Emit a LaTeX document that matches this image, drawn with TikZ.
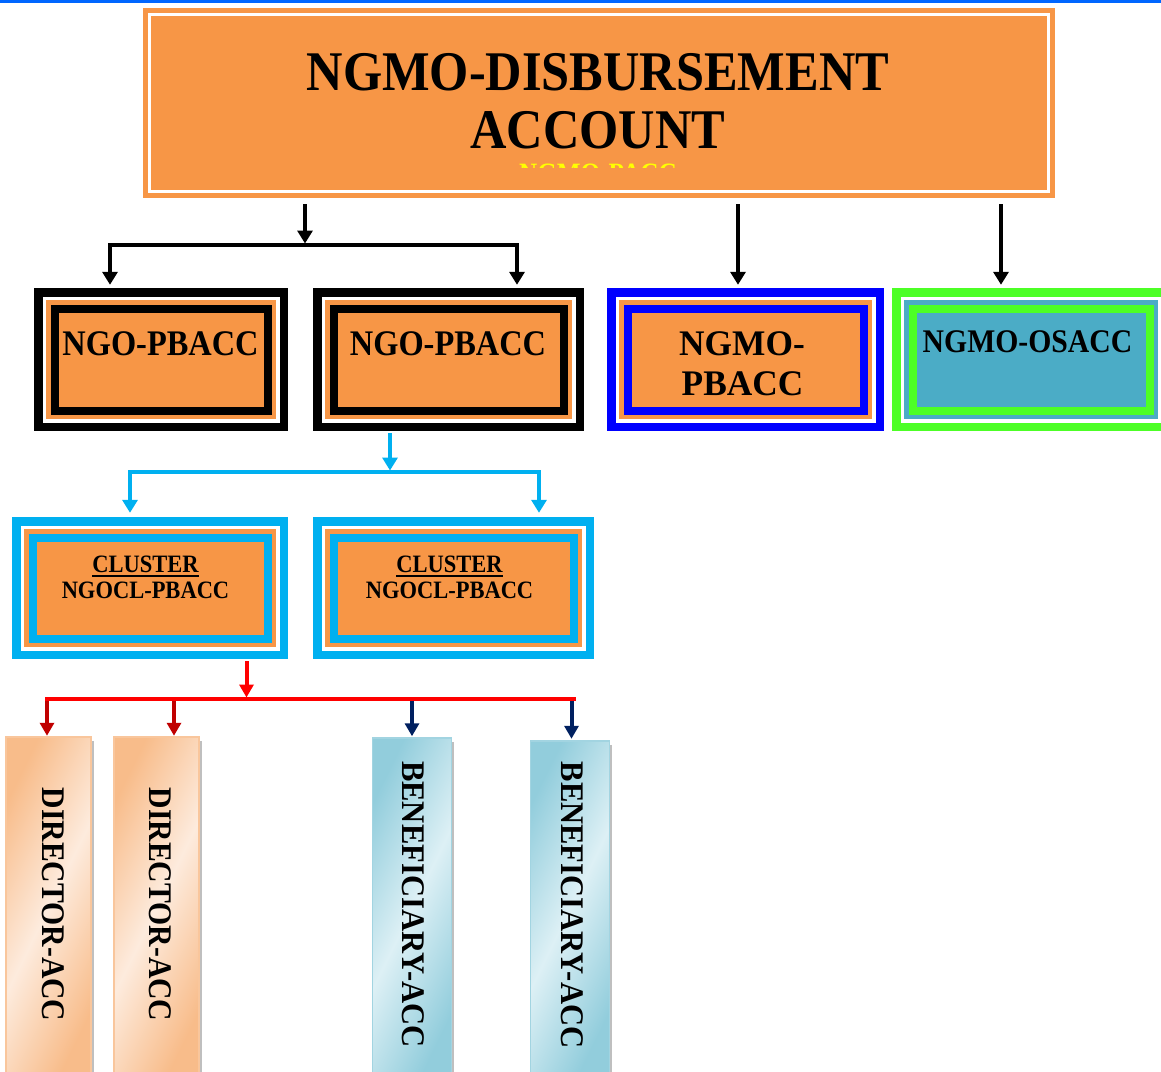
\documentclass[tikz,border=0pt]{standalone}
\usepackage{fontspec}
\usepackage{graphicx}
\setmainfont{Liberation Serif}[FakeStretch=0.9]
\usetikzlibrary{arrows.meta}

\definecolor{acc6}{RGB}{247,150,70}
\definecolor{acc5}{RGB}{75,172,198}
\definecolor{skyline}{RGB}{0,176,240}
\definecolor{limegreen}{RGB}{77,255,38}
\definecolor{pureblue}{RGB}{0,0,255}
\definecolor{deepred}{RGB}{192,0,0}
\definecolor{navyline}{RGB}{0,32,96}
\definecolor{topblue}{RGB}{0,102,255}
\definecolor{peach}{RGB}{248,188,138}
\definecolor{peachlight}{RGB}{253,235,221}
\definecolor{aqua}{RGB}{146,205,220}
\definecolor{aqualight}{RGB}{221,240,245}
\definecolor{ghostyellow}{RGB}{255,255,0}

\newcommand{\widen}[2]{\scalebox{#1}[1]{#2}}

\begin{document}
\begin{tikzpicture}[x=1pt,y=-1pt,
  lbl/.style={inner sep=0pt, font=\bfseries},
  layered/.style 2 args={rectangle, inner sep=0pt, path picture={
    \fill[#1] (path picture bounding box.south west) rectangle (path picture bounding box.north east);
    \fill[white] ([shift={(8.5pt,8.5pt)}]path picture bounding box.south west) rectangle ([shift={(-8.5pt,-8.5pt)}]path picture bounding box.north east);
    \fill[#2] ([shift={(12pt,12pt)}]path picture bounding box.south west) rectangle ([shift={(-12pt,-12pt)}]path picture bounding box.north east);
    \fill[#1] ([shift={(16.5pt,16.5pt)}]path picture bounding box.south west) rectangle ([shift={(-16.5pt,-16.5pt)}]path picture bounding box.north east);
    \fill[#2] ([shift={(24.5pt,24.5pt)}]path picture bounding box.south west) rectangle ([shift={(-24.5pt,-24.5pt)}]path picture bounding box.north east);
  }},
  bar/.style={rectangle, inner sep=0pt, minimum height=337pt, line width=1.5pt,
    preaction={fill=black!25, transform canvas={xshift=2.5pt,yshift=-4pt}}},
  peachbar/.style={bar, draw=peach!85!white, left color=peach, right color=peach,
    middle color=peachlight, shading angle=64},
  aquabar/.style={bar, draw=aqua!85!white, left color=aqua, right color=aqua,
    middle color=aqualight, shading angle=64},
  blackarrow/.style={line width=3.5pt, -{Triangle[length=13pt,width=15pt]}},
  skyarrow/.style={line width=4pt, skyline, -{Triangle[length=13pt,width=15pt]}},
  redarrow/.style={line width=4pt, red, -{Triangle[length=13pt,width=14pt]}},
  deeparrow/.style={line width=4pt, #1, -{Triangle[length=13pt,width=14pt]}},
]
\path[use as bounding box, clip] (0,0) rectangle (1161,1071);
\fill[white] (0,0) rectangle (1161,1071);
\fill[topblue] (0,0) rectangle (1161,2.5);

% top account
\node[rectangle, fill=acc6, minimum width=912pt, minimum height=190pt, inner sep=0pt] (acct) at (599,103) {};
\draw[white, line width=3pt] ([shift={(7pt,7pt)}]acct.south west) rectangle ([shift={(-7pt,-7pt)}]acct.north east);
\node[lbl, anchor=base, font=\bfseries\fontsize{56}{58}\selectfont] (acctA) at (598,90) {NGMO-DISBURSEMENT};
\node[lbl, anchor=base, font=\bfseries\fontsize{56}{58}\selectfont] (acctB) at (598,148) {ACCOUNT};
\begin{scope}
  \clip (150,150) rectangle (1047,167);
  \node[lbl, anchor=base, text=ghostyellow, font=\bfseries\fontsize{28}{30}\selectfont] (ghost) at (598,182) {NGMO-PACC};
\end{scope}

% second row
\node[layered={black}{acc6}, minimum width=254pt, minimum height=143pt] (ngoA) at (161,359.5) {};
\node[layered={black}{acc6}, minimum width=271pt, minimum height=143pt] (ngoB) at (448.5,359.5) {};
\node[layered={pureblue}{acc6}, minimum width=277pt, minimum height=143pt] (ngmo) at (745.5,359.5) {};
\node[layered={limegreen}{acc5}, minimum width=278pt, minimum height=143pt] (osacc) at (1031,359.5) {};

\node[lbl, anchor=base, font=\bfseries\fontsize{36}{40}\selectfont] (ngoAt) at (160.5,355) {NGO-PBACC};
\node[lbl, anchor=base, font=\bfseries\fontsize{36}{40}\selectfont] (ngoBt) at (448,355) {NGO-PBACC};
\node[lbl, anchor=base, font=\bfseries\fontsize{36}{40}\selectfont] (ngmoA) at (742,355) {\widen{1.09}{NGMO-}};
\node[lbl, anchor=base, font=\bfseries\fontsize{36}{40}\selectfont] (ngmoB) at (742.5,395) {\widen{1.09}{PBACC}};
\node[lbl, anchor=base, font=\bfseries\fontsize{33}{38}\selectfont] (osaccT) at (1027.5,352) {NGMO-OSACC};

% cluster row
\node[layered={skyline}{acc6}, minimum width=276pt, minimum height=142pt] (clA) at (150,588) {};
\node[layered={skyline}{acc6}, minimum width=281pt, minimum height=142pt] (clB) at (453.5,588) {};
\foreach \nm/\cx in {clA/145.5, clB/449.5}{
  \node[lbl, anchor=base, font=\bfseries\fontsize{25}{28}\selectfont] (\nm h) at (\cx,572.5) {CLUSTER};
  \draw[line width=2.5pt] ([yshift=-3.5pt]\nm h.base west) -- ([yshift=-3.5pt]\nm h.base east);
  \node[lbl, anchor=base, font=\bfseries\fontsize{25}{28}\selectfont] (\nm n) at (\cx,598) {NGOCL-PBACC};
}

% account bars
\node[peachbar, minimum width=85pt, minimum height=340pt] (dirA) at (48.5,907) {};
\node[peachbar, minimum width=85pt, minimum height=340pt] (dirB) at (156.5,907) {};
\node[aquabar, minimum width=79pt, minimum height=340pt] (benA) at (412,908) {};
\node[aquabar, minimum width=79pt, minimum height=334pt] (benB) at (570,908) {};
\node[lbl, rotate=-90, font=\bfseries\fontsize{33}{36}\selectfont] (dirAt) at (53,904.5) {DIRECTOR-ACC};
\node[lbl, rotate=-90, font=\bfseries\fontsize{33}{36}\selectfont] (dirBt) at (160.5,904.5) {DIRECTOR-ACC};
\node[lbl, rotate=-90, font=\bfseries\fontsize{33}{36}\selectfont] (benAt) at (413,904.5) {\widen{1.03}{BENEFICIARY-ACC}};
\node[lbl, rotate=-90, font=\bfseries\fontsize{33}{36}\selectfont] (benBt) at (572,905) {\widen{1.03}{BENEFICIARY-ACC}};

% black connectors
\coordinate (kS) at (305,204);
\coordinate (kTop) at (305,245);
\coordinate (kL) at (110,245);
\coordinate (kR) at (517,245);
\coordinate (kM) at (738,204);
\coordinate (kO) at (1001,204);
\draw[line width=3.5pt, line cap=rect] (kL) -- (kR);
\draw[blackarrow] (kS) -- ([yshift=1.5pt]kTop);
\draw[blackarrow, shorten >=3pt] (kL) -- (kL |- ngoA.north);
\draw[blackarrow, shorten >=3pt] (kR) -- (kR |- ngoB.north);
\draw[blackarrow, shorten >=3pt] (kM) -- (kM |- ngmo.north);
\draw[blackarrow, shorten >=3pt] (kO) -- (kO |- osacc.north);

% cyan connectors
\coordinate (cS) at (390,433);
\coordinate (cTop) at (390,472);
\coordinate (cL) at (130,472);
\coordinate (cR) at (539,472);
\draw[skyline, line width=3.5pt, line cap=rect] (cL) -- (cR);
\draw[skyarrow] (cS) -- ([yshift=1.5pt]cTop);
\draw[skyarrow, shorten >=4pt] (cL) -- (cL |- clA.north);
\draw[skyarrow, shorten >=4pt] (cR) -- (cR |- clB.north);

% red connectors
\coordinate (rS) at (246.5,661);
\coordinate (rTop) at (246.5,699);
\coordinate (rL) at (47,699);
\coordinate (rR) at (574,699);
\coordinate (rA) at (47,699);
\coordinate (rB) at (174,699);
\coordinate (rC) at (412,699);
\coordinate (rD) at (571.5,699);
\draw[deeparrow=deepred, shorten >=0.5pt] (rA) -- (rA |- dirA.north);
\draw[deeparrow=deepred, shorten >=0.5pt] (rB) -- (rB |- dirB.north);
\draw[deeparrow=navyline, shorten >=1pt] (rC) -- (rC |- benA.north);
\draw[deeparrow=navyline, shorten >=1.5pt] (rD) -- (rD |- benB.north);
\draw[red, line width=3.5pt, line cap=rect] (rL) -- (rR);
\draw[redarrow] (rS) -- ([yshift=1.5pt]rTop);
\end{tikzpicture}
\end{document}
